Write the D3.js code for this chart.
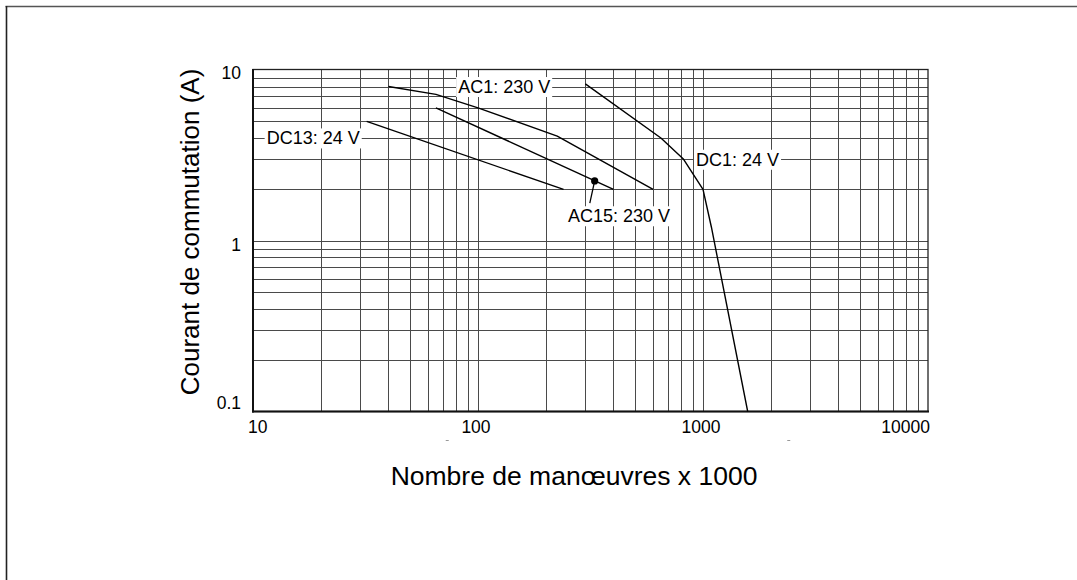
<!DOCTYPE html>
<html><head><meta charset="utf-8">
<script src="https://cdn.jsdelivr.net/npm/d3@7"></script>
<style>
body{margin:0;background:#fff}
svg{display:block}
text{font-family:"Liberation Sans",Arial,Helvetica,sans-serif;fill:#000}
</style>
</head><body>
<svg id="c" width="1077" height="580"></svg>
<script>
// ---- data ----
const xTickValues = [10, 100, 1000, 10000];
const xTickLabels = ["10", "100", "1000", "10000"];
const yTickValues = [0.1, 1, 10];
const yTickLabels = ["0.1", "1", "10"];
const xTitle = "Nombre de manœuvres x 1000";
const yTitle = "Courant de commutation (A)";
const seriesNames = ["AC1: 230 V", "AC15: 230 V", "DC13: 24 V", "DC1: 24 V"];
const ac1Points = [[40, 8], [65, 7.2], [100, 6], [225, 4.1], [600, 2]];
const ac15Points = [[65, 6], [400, 2]];
const dc13Points = [[32, 5], [240, 2]];
const dc1Points = [[300, 8.3], [650, 4], [820, 3], [1000, 2], [1090, 1.2], [1580, 0.1]];
const ac15Marker = [330, 2.24];
const ac15LeaderEnd = [314, 1.66];
// label anchor (left edge x, centre y) in data units
const labelAnchors = [[81.6, 8], [251, 1.4], [11.5, 4], [931, 3]];
const strayMarks = [73, 2405];

// ---- layout ----
const svg = d3.select("#c");
const W = 1077, H = 580;
const x = d3.scaleLog().domain([10, 10000]).range([253, 928]);
const y = d3.scaleLog().domain([0.1, 10]).range([411.5, 70]);

svg.append("rect").attr("width", W).attr("height", H).attr("fill", "#fff");
// outer frame fragments
svg.append("line").attr("x1", 5.5).attr("x2", W).attr("y1", 6.5).attr("y2", 6.5)
  .attr("stroke", "#555").attr("stroke-width", 1.6);
svg.append("line").attr("x1", 6.5).attr("x2", 6.5).attr("y1", 6).attr("y2", H)
  .attr("stroke", "#222").attr("stroke-width", 1.6);

// grid values
const xGrid = [], yGrid = [];
for (let e = 1; e < 4; e++) for (let m = 1; m <= 9; m++) xGrid.push(m * Math.pow(10, e));
for (let e = -1; e < 1; e++) for (let m = 1; m <= 9; m++) yGrid.push(+(m * Math.pow(10, e)).toPrecision(3));

const g = svg.append("g");
g.selectAll("line.vx").data(xGrid.filter(v => v > 10)).join("line")
  .attr("x1", d => Math.round(x(d)) + 0.5).attr("x2", d => Math.round(x(d)) + 0.5)
  .attr("y1", y(10)).attr("y2", y(0.1))
  .attr("stroke", "#4a4a4a").attr("stroke-width", 1);
g.selectAll("line.hy").data(yGrid.filter(v => v > 0.1)).join("line")
  .attr("y1", d => Math.round(y(d)) + 0.5).attr("y2", d => Math.round(y(d)) + 0.5)
  .attr("x1", x(10)).attr("x2", x(10000))
  .attr("stroke", "#4a4a4a").attr("stroke-width", 1);

// plot frame
svg.append("rect").attr("x", x(10)).attr("y", y(10) - 0.5)
  .attr("width", x(10000) - x(10)).attr("height", y(0.1) - y(10) + 0.5)
  .attr("fill", "none").attr("stroke", "#222").attr("stroke-width", 1.3);
svg.append("line").attr("x1", x(10)).attr("x2", x(10)).attr("y1", y(10) - 1).attr("y2", y(0.1) + 1)
  .attr("stroke", "#111").attr("stroke-width", 2);
svg.append("line").attr("x1", x(10) - 1).attr("x2", x(10000) + 1).attr("y1", y(0.1)).attr("y2", y(0.1))
  .attr("stroke", "#111").attr("stroke-width", 2);

// series
const line = d3.line().x(d => x(d[0])).y(d => y(d[1]));
const allSeries = [ac1Points, ac15Points, dc13Points, dc1Points];
svg.append("g").selectAll("path").data(allSeries).join("path")
  .attr("d", line).attr("fill", "none").attr("stroke", "#000").attr("stroke-width", 1.4)
  .attr("stroke-linejoin", "round");

// AC15 marker & leader
svg.append("line").attr("x1", x(ac15Marker[0])).attr("y1", y(ac15Marker[1]))
  .attr("x2", x(ac15LeaderEnd[0])).attr("y2", y(ac15LeaderEnd[1]))
  .attr("stroke", "#000").attr("stroke-width", 1.3);
svg.append("circle").attr("cx", x(ac15Marker[0])).attr("cy", y(ac15Marker[1])).attr("r", 3.6).attr("fill", "#000");

// labels with white backgrounds
const lg = svg.append("g");
seriesNames.forEach((name, i) => {
  const [lx, ly] = labelAnchors[i];
  const grp = lg.append("g");
  const rect = grp.append("rect").attr("fill", "#fff");
  const t = grp.append("text").attr("x", x(lx)).attr("y", y(ly)).attr("dy", "0.36em")
    .attr("font-size", 18).text(name);
  const b = t.node().getBBox();
  rect.attr("x", b.x - 2).attr("y", b.y).attr("width", b.width + 4).attr("height", b.height);
});

// tick labels
svg.append("g").selectAll("text").data(xTickValues).join("text")
  .attr("x", (d, i) => i === 0 ? x(d) - 5 : (i === xTickValues.length - 1 ? x(d) + 2 : x(d) - 2))
  .attr("y", 433)
  .attr("text-anchor", (d, i) => i === 0 ? "start" : (i === xTickValues.length - 1 ? "end" : "middle"))
  .attr("font-size", 17.5).text((d, i) => xTickLabels[i]);
const yOff = [-9, 4.5, 2.5];
svg.append("g").selectAll("text").data(yTickValues).join("text")
  .attr("x", 241).attr("y", (d, i) => y(d) + yOff[i]).attr("dy", "0.35em")
  .attr("text-anchor", "end").attr("font-size", 17.5).text((d, i) => yTickLabels[i]);

// stray marks below axis
svg.append("g").selectAll("line").data(strayMarks).join("line")
  .attr("x1", d => x(d) - 1.5).attr("x2", d => x(d) + 1.5).attr("y1", 440.5).attr("y2", 440.5)
  .attr("stroke", "#999").attr("stroke-width", 1);

// titles
svg.append("text").attr("x", 574).attr("y", 485).attr("text-anchor", "middle")
  .attr("font-size", 26.5).text(xTitle);
svg.append("text").attr("transform", "translate(199,232) rotate(-90)").attr("text-anchor", "middle")
  .attr("font-size", 26).text(yTitle);
</script>
</body></html>
